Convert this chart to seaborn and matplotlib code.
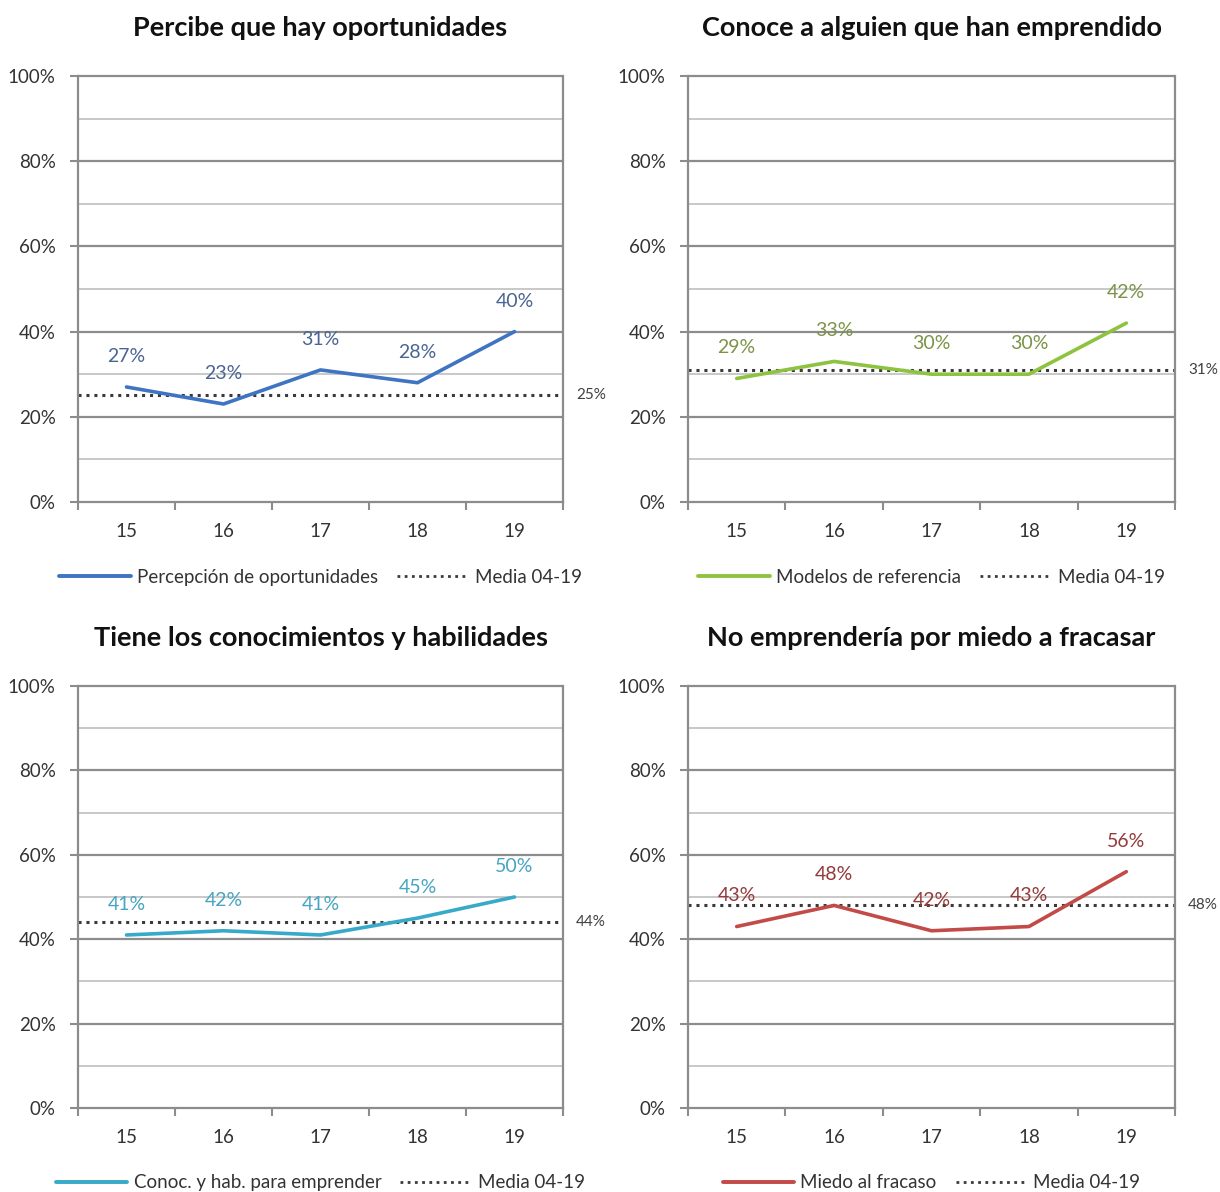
import matplotlib
matplotlib.use("Agg")
import matplotlib.pyplot as plt
import matplotlib.transforms as mtransforms
from matplotlib.lines import Line2D
from matplotlib.ticker import FixedLocator
import seaborn as sns
import pandas as pd

sns.set_theme(style="white")
plt.rcParams['font.family'] = ['Lato', 'DejaVu Sans']

years = ["15", "16", "17", "18", "19"]

titles = [
    "Percibe que hay oportunidades",
    "Conoce a alguien que han emprendido",
    "Tiene los conocimientos y habilidades",
    "No emprendería por miedo a fracasar",
]
series_names = [
    "Percepción de oportunidades",
    "Modelos de referencia",
    "Conoc. y hab. para emprender",
    "Miedo al fracaso",
]
oportunidades = [0.27, 0.23, 0.31, 0.28, 0.40]
modelos = [0.29, 0.33, 0.30, 0.30, 0.42]
conocimientos = [0.41, 0.42, 0.41, 0.45, 0.50]
miedo = [0.43, 0.48, 0.42, 0.43, 0.56]
medias = [0.25, 0.31, 0.44, 0.48]
mean_label = "Media 04-19"

line_colors = ["#3f74c2", "#8dc33f", "#37a9c9", "#c24a47"]
text_colors = ["#4a6593", "#7a9448", "#46a5c3", "#943a3a"]

all_values = [oportunidades, modelos, conocimientos, miedo]

fig = plt.figure(figsize=(12.2, 11.92), dpi=100)
W, H = 1220, 1192
boxes = [
    (78, 76, 563, 502),
    (688, 76, 1175, 502),
    (78, 686, 563, 1108),
    (688, 686, 1175, 1108),
]

for i, (x0, y0, x1, y1) in enumerate(boxes):
    ax = fig.add_axes([x0 / W, 1 - y1 / H, (x1 - x0) / W, (y1 - y0) / H])
    df = pd.DataFrame({"anio": years, "valor": all_values[i]})
    df["pos"] = range(len(years))

    # gridlines: light at 10% steps, darker at 20% steps
    for v in [0.1, 0.3, 0.5, 0.7, 0.9]:
        ax.axhline(v, color="#c4c4c4", lw=1.3, zorder=1)
    for v in [0.2, 0.4, 0.6, 0.8, 1.0]:
        ax.axhline(v, color="#8c8c8c", lw=1.6, zorder=1, clip_on=False)

    ax.axhline(medias[i], color="#3a3a3a", lw=2.2, ls=(0, (1, 1.6)), zorder=2)
    sns.lineplot(data=df, x="pos", y="valor", ax=ax, color=line_colors[i],
                 lw=2.6, zorder=3, legend=False)

    for xp, v in zip(df["pos"], df["valor"]):
        ax.annotate(f"{round(v * 100):.0f}%", (xp, v), xytext=(0, 22),
                    textcoords="offset points", ha="center", va="center",
                    fontsize=14, color=text_colors[i])

    trans = mtransforms.blended_transform_factory(ax.transAxes, ax.transData)
    ax.text(1.027, medias[i], f"{round(medias[i] * 100):.0f}%", transform=trans,
            ha="left", va="center", fontsize=11, color="#404040")

    ax.set_xlim(-0.5, 4.5)
    ax.set_ylim(0, 1)
    ax.set_xticks(range(len(years)))
    ax.set_xticklabels(years)
    ax.xaxis.set_minor_locator(FixedLocator([-0.5, 0.5, 1.5, 2.5, 3.5, 4.5]))
    ax.set_yticks([0, 0.2, 0.4, 0.6, 0.8, 1.0])
    ax.set_yticklabels(["0%", "20%", "40%", "60%", "80%", "100%"])
    ax.tick_params(axis="x", which="major", length=0, pad=15, labelsize=13.5,
                   labelcolor="#333333")
    ax.tick_params(axis="x", which="minor", length=6, width=1.5, color="#8c8c8c",
                   bottom=True)
    ax.tick_params(axis="y", which="major", length=6, width=1.5, color="#8c8c8c",
                   left=True, pad=10, labelsize=13.5, labelcolor="#333333")
    ax.set_xlabel("")
    ax.set_ylabel("")
    ax.grid(False)
    for side in ["left", "right", "bottom"]:
        ax.spines[side].set_color("#8c8c8c")
        ax.spines[side].set_linewidth(1.6)
    ax.spines["top"].set_visible(False)

    ax.set_title(titles[i], fontsize=19.5, fontweight="bold", color="#111111",
                 pad=29)

    handles = [
        Line2D([], [], color=line_colors[i], lw=2.8),
        Line2D([], [], color="#3a3a3a", lw=2.0, ls=(0, (1, 1.6))),
    ]
    ax.legend(handles, [series_names[i], mean_label], loc="center",
              bbox_to_anchor=(0.5, -0.177), ncol=2, frameon=False,
              fontsize=13.5, handlelength=3.8, handletextpad=0.35,
              columnspacing=1.0, labelcolor="#333333")

fig.savefig("out.png", dpi=100, facecolor="white")
